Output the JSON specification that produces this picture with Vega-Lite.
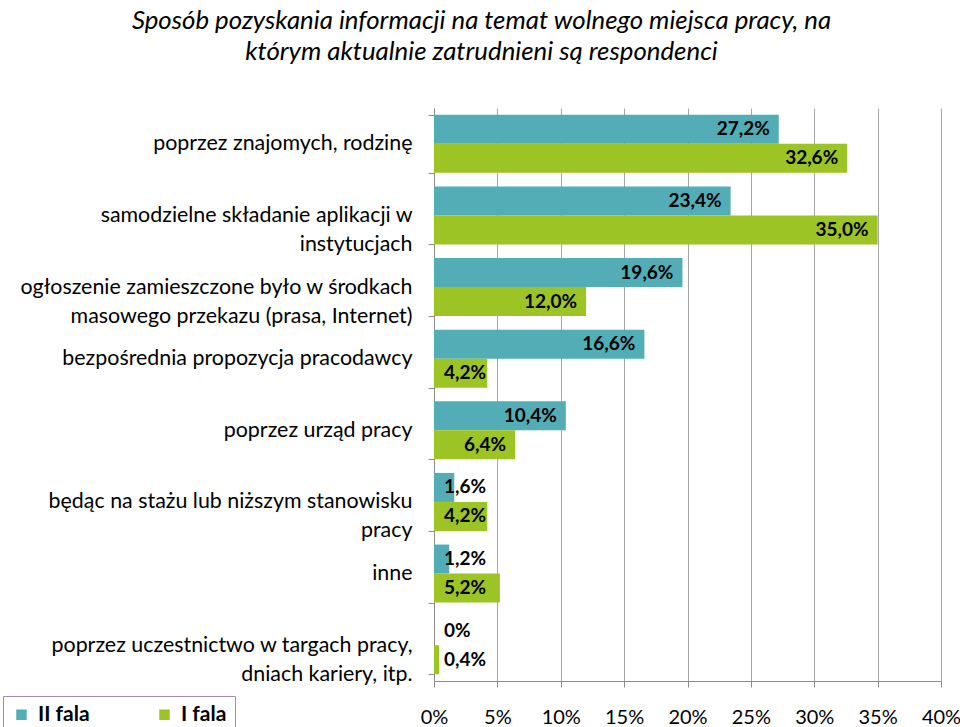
{
  "$schema": "https://vega.github.io/schema/vega-lite/v6.json",
  "padding": {"left": 2, "right": 0, "top": 8, "bottom": 3},
  "background": "white",
  "width": 507,
  "height": 573,
  "config": {"font": "Lato", "view": {"stroke": null}},
  "title": {
    "text": ["Sposób pozyskania informacji na temat wolnego miejsca pracy, na", "którym aktualnie zatrudnieni są respondenci"],
    "fontSize": 25.8,
    "fontStyle": "italic",
    "fontWeight": "normal",
    "lineHeight": 31,
    "anchor": "middle",
    "frame": "bounds",
    "offset": 31,
    "color": "#000000"
  },
  "data": {
    "values": [
      {"kategoria": "poprzez znajomych, rodzinę", "fala": "II fala", "procent": 27.2, "etykieta": "27,2%"},
      {"kategoria": "poprzez znajomych, rodzinę", "fala": "I fala", "procent": 32.6, "etykieta": "32,6%"},
      {"kategoria": "samodzielne składanie aplikacji w\ninstytucjach", "fala": "II fala", "procent": 23.4, "etykieta": "23,4%"},
      {"kategoria": "samodzielne składanie aplikacji w\ninstytucjach", "fala": "I fala", "procent": 35.0, "etykieta": "35,0%"},
      {"kategoria": "ogłoszenie zamieszczone było w środkach\nmasowego przekazu (prasa, Internet)", "fala": "II fala", "procent": 19.6, "etykieta": "19,6%"},
      {"kategoria": "ogłoszenie zamieszczone było w środkach\nmasowego przekazu (prasa, Internet)", "fala": "I fala", "procent": 12.0, "etykieta": "12,0%"},
      {"kategoria": "bezpośrednia propozycja pracodawcy", "fala": "II fala", "procent": 16.6, "etykieta": "16,6%"},
      {"kategoria": "bezpośrednia propozycja pracodawcy", "fala": "I fala", "procent": 4.2, "etykieta": "4,2%"},
      {"kategoria": "poprzez urząd pracy", "fala": "II fala", "procent": 10.4, "etykieta": "10,4%"},
      {"kategoria": "poprzez urząd pracy", "fala": "I fala", "procent": 6.4, "etykieta": "6,4%"},
      {"kategoria": "będąc na stażu lub niższym stanowisku\npracy", "fala": "II fala", "procent": 1.6, "etykieta": "1,6%"},
      {"kategoria": "będąc na stażu lub niższym stanowisku\npracy", "fala": "I fala", "procent": 4.2, "etykieta": "4,2%"},
      {"kategoria": "inne", "fala": "II fala", "procent": 1.2, "etykieta": "1,2%"},
      {"kategoria": "inne", "fala": "I fala", "procent": 5.2, "etykieta": "5,2%"},
      {"kategoria": "poprzez uczestnictwo w targach pracy,\ndniach kariery, itp.", "fala": "II fala", "procent": 0, "etykieta": "0%"},
      {"kategoria": "poprzez uczestnictwo w targach pracy,\ndniach kariery, itp.", "fala": "I fala", "procent": 0.4, "etykieta": "0,4%"}
    ]
  },
  "encoding": {
    "y": {
      "field": "kategoria",
      "type": "nominal",
      "sort": null,
      "scale": {"paddingInner": 0.19, "paddingOuter": 0.095},
      "axis": {
        "title": null,
        "tickBand": "extent",
        "tickSize": 6,
        "labelPadding": 16,
        "labelFontSize": 21.4,
        "labelLineHeight": 29,
        "labelLimit": 0,
        "labelColor": "#000000",
        "labelExpr": "split(datum.label, '\\n')",
        "domainColor": "#8c8c8c",
        "tickColor": "#8c8c8c",
        "grid": false
      }
    },
    "yOffset": {"field": "fala", "type": "nominal", "sort": ["II fala", "I fala"]},
    "x": {
      "field": "procent",
      "type": "quantitative",
      "scale": {"domain": [0, 40]},
      "axis": {
        "title": null,
        "values": [0, 5, 10, 15, 20, 25, 30, 35, 40],
        "labelExpr": "datum.value + '%'",
        "labelFontSize": 20,
        "labelColor": "#000000",
        "labelFlush": false,
        "tickSize": 6,
        "labelPadding": 20,
        "grid": true,
        "gridColor": "#a6a6a6",
        "domainColor": "#8c8c8c",
        "tickColor": "#8c8c8c"
      }
    }
  },
  "layer": [
    {
      "mark": {"type": "bar"},
      "encoding": {
        "color": {
          "field": "fala",
          "type": "nominal",
          "scale": {"domain": ["II fala", "I fala"], "range": ["#52adb7", "#9bc424"]},
          "legend": {
            "orient": "none",
            "legendX": -431,
            "legendY": 588,
            "direction": "horizontal",
            "title": null,
            "symbolType": "square",
            "symbolSize": 110,
            "symbolStrokeWidth": 0,
            "labelOffset": 6,
            "labelFontSize": 21,
            "labelFontWeight": "bold",
            "labelColor": "#000000",
            "strokeColor": "#a98aab",
            "fillColor": "#ffffff",
            "padding": 8,
            "columnPadding": 64
          }
        }
      }
    },
    {
      "transform": [{"filter": "datum.procent >= 6"}],
      "mark": {"type": "text", "align": "right", "baseline": "middle", "dx": -9, "fontSize": 19, "fontWeight": "bold", "color": "#000000"},
      "encoding": {"text": {"field": "etykieta", "type": "nominal"}}
    },
    {
      "transform": [{"filter": "datum.procent < 6"}],
      "mark": {"type": "text", "align": "left", "baseline": "middle", "dx": 10, "fontSize": 19, "fontWeight": "bold", "color": "#000000"},
      "encoding": {"x": {"datum": 0}, "text": {"field": "etykieta", "type": "nominal"}}
    }
  ]
}
